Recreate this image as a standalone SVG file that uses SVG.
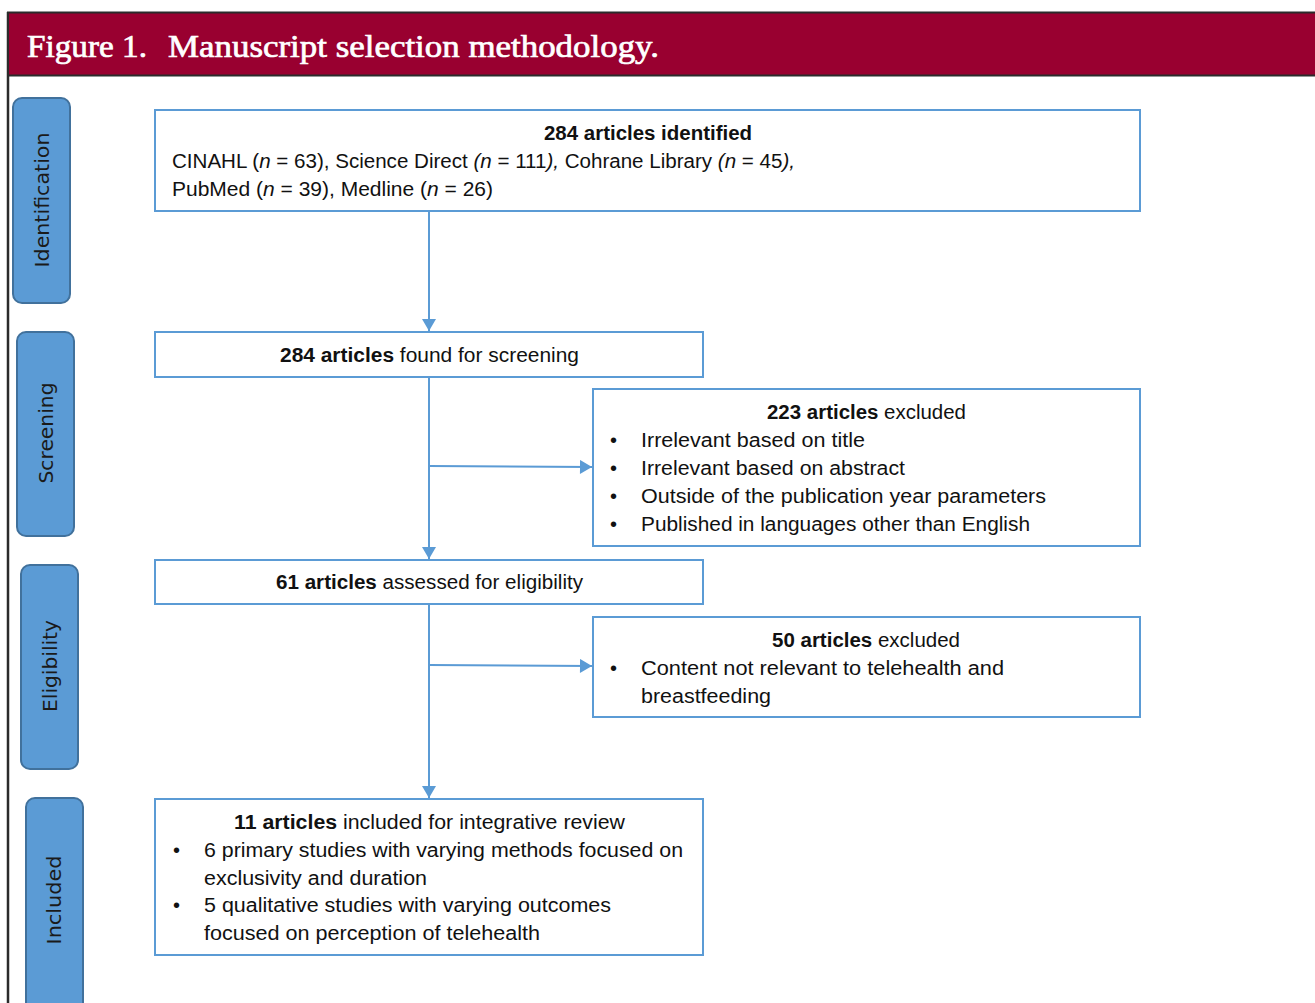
<svg xmlns="http://www.w3.org/2000/svg" width="1315" height="1003" viewBox="0 0 1315 1003">
<defs>
<style>
.lab{fill:#5b9bd5;stroke:#41719c;stroke-width:2}
.labt{font-family:"DejaVu Sans",Verdana,sans-serif;font-size:20px;fill:#1a1a1a;text-anchor:middle;dominant-baseline:central}
.box{fill:#ffffff;stroke:#5b9bd5;stroke-width:2}
.t{font-family:"Liberation Sans",Arial,sans-serif;font-size:20px;fill:#111111}
.c{text-anchor:middle}
.b{font-weight:bold}
.i{font-style:italic}
.con{stroke:#5b9bd5;stroke-width:2;fill:none;marker-end:url(#ah)}
.ttl{font-family:"Liberation Serif","Times New Roman",serif;font-size:32px;fill:#ffffff;stroke:#ffffff;stroke-width:0.7}
</style>
<marker id="ah" markerWidth="14" markerHeight="14" viewBox="0 0 12 14" refX="12" refY="7" orient="auto" markerUnits="userSpaceOnUse">
<path d="M0,0 L12,7 L0,14 Z" fill="#5b9bd5"/>
</marker>
</defs>
<rect width="1315" height="1003" fill="#ffffff"/>
<g id="frame">
<line x1="8" y1="12" x2="8" y2="1003" stroke="#2b2b2b" stroke-width="2.5"/>
<rect x="8" y="12.5" width="1310" height="63" fill="#990030" stroke="#2b2b2b" stroke-width="2"/>
<text class="ttl" y="57"><tspan x="27" textLength="120" lengthAdjust="spacingAndGlyphs">Figure 1.</tspan><tspan x="168" textLength="491" lengthAdjust="spacingAndGlyphs">Manuscript selection methodology.</tspan></text>
</g>
<g id="label-identification">
<rect class="lab" x="13" y="98" width="57" height="205" rx="9"/>
<text class="labt" transform="translate(42,200) rotate(-90)" textLength="135" lengthAdjust="spacingAndGlyphs">Identification</text>
</g>
<g id="label-screening">
<rect class="lab" x="17" y="332" width="57" height="204" rx="9"/>
<text class="labt" transform="translate(46,433) rotate(-90)" textLength="101" lengthAdjust="spacingAndGlyphs">Screening</text>
</g>
<g id="label-eligibility">
<rect class="lab" x="21" y="565" width="57" height="204" rx="9"/>
<text class="labt" transform="translate(50,666) rotate(-90)" textLength="92" lengthAdjust="spacingAndGlyphs">Eligibility</text>
</g>
<g id="label-included">
<rect class="lab" x="26" y="798" width="57" height="215" rx="9"/>
<text class="labt" transform="translate(54,900) rotate(-90)" textLength="89" lengthAdjust="spacingAndGlyphs">Included</text>
</g>
<g id="connectors">
<line class="con" x1="429" y1="212" x2="429" y2="331"/>
<line class="con" x1="429" y1="378" x2="429" y2="559"/>
<line class="con" x1="429" y1="466" x2="592" y2="467"/>
<line class="con" x1="429" y1="605" x2="429" y2="798"/>
<line class="con" x1="429" y1="665" x2="592" y2="666"/>
</g>
<g id="node-identified">
<rect class="box" x="155" y="110" width="985" height="101"/>
<text class="t b c" x="648" y="140" textLength="208" lengthAdjust="spacingAndGlyphs">284 articles identified</text>
<text class="t" x="172" y="168" textLength="623" lengthAdjust="spacingAndGlyphs">CINAHL (<tspan class="i">n</tspan> = 63), Science Direct <tspan class="i">(n</tspan> = 111<tspan class="i">),</tspan> Cohrane Library <tspan class="i">(n</tspan> = 45<tspan class="i">),</tspan></text>
<text class="t" x="172" y="196" textLength="321" lengthAdjust="spacingAndGlyphs">PubMed (<tspan class="i">n</tspan> = 39), Medline (<tspan class="i">n</tspan> = 26)</text>
</g>
<g id="node-screening">
<rect class="box" x="155" y="332" width="548" height="45"/>
<text class="t c" x="429.5" y="362" textLength="299" lengthAdjust="spacingAndGlyphs"><tspan class="b">284 articles</tspan> found for screening</text>
</g>
<g id="node-excluded-223">
<rect class="box" x="593" y="389" width="547" height="157"/>
<text class="t c" x="866.5" y="419" textLength="199" lengthAdjust="spacingAndGlyphs"><tspan class="b">223 articles</tspan> excluded</text>
<text class="t" x="610" y="447">•</text>
<text class="t" x="641" y="447" textLength="224" lengthAdjust="spacingAndGlyphs">Irrelevant based on title</text>
<text class="t" x="610" y="475">•</text>
<text class="t" x="641" y="475" textLength="264" lengthAdjust="spacingAndGlyphs">Irrelevant based on abstract</text>
<text class="t" x="610" y="503">•</text>
<text class="t" x="641" y="503" textLength="405" lengthAdjust="spacingAndGlyphs">Outside of the publication year parameters</text>
<text class="t" x="610" y="531">•</text>
<text class="t" x="641" y="531" textLength="389" lengthAdjust="spacingAndGlyphs">Published in languages other than English</text>
</g>
<g id="node-eligibility">
<rect class="box" x="155" y="560" width="548" height="44"/>
<text class="t c" x="429.5" y="589" textLength="307" lengthAdjust="spacingAndGlyphs"><tspan class="b">61 articles</tspan> assessed for eligibility</text>
</g>
<g id="node-excluded-50">
<rect class="box" x="593" y="617" width="547" height="100"/>
<text class="t c" x="866" y="647" textLength="188" lengthAdjust="spacingAndGlyphs"><tspan class="b">50 articles</tspan> excluded</text>
<text class="t" x="610" y="675">•</text>
<text class="t" x="641" y="675" textLength="363" lengthAdjust="spacingAndGlyphs">Content not relevant to telehealth and</text>
<text class="t" x="641" y="703" textLength="130" lengthAdjust="spacingAndGlyphs">breastfeeding</text>
</g>
<g id="node-included">
<rect class="box" x="155" y="799" width="548" height="156"/>
<text class="t c" x="429.5" y="829" textLength="391" lengthAdjust="spacingAndGlyphs"><tspan class="b">11 articles</tspan> included for integrative review</text>
<text class="t" x="173" y="857">•</text>
<text class="t" x="204" y="857" textLength="479" lengthAdjust="spacingAndGlyphs">6 primary studies with varying methods focused on</text>
<text class="t" x="204" y="885" textLength="223" lengthAdjust="spacingAndGlyphs">exclusivity and duration</text>
<text class="t" x="173" y="912">•</text>
<text class="t" x="204" y="912" textLength="407" lengthAdjust="spacingAndGlyphs">5 qualitative studies with varying outcomes</text>
<text class="t" x="204" y="940" textLength="336" lengthAdjust="spacingAndGlyphs">focused on perception of telehealth</text>
</g>
</svg>
